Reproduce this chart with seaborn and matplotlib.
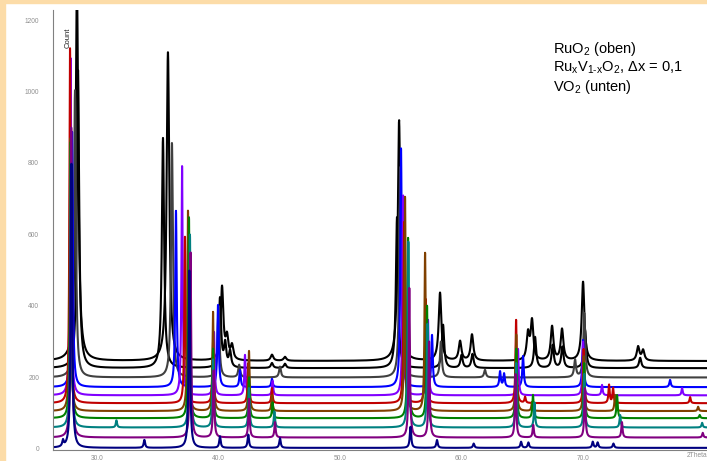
import numpy as np
import pandas as pd
import matplotlib
matplotlib.use("Agg")
import matplotlib.pyplot as plt
import seaborn as sns

# ---------------- data ----------------
# series order: top (RuO2) -> bottom (VO2)
SERIES = ["RuO2", "S9", "S8", "S7", "S6", "S5", "S4", "S3", "S2", "S1", "VO2"]
COLORS = ["#000000", "#000000", "#404040", "#0000FF", "#8000FF", "#C00000",
          "#804000", "#008000", "#008080", "#800080", "#000080"]
OFFSETS = [246, 226, 200, 173, 150, 128, 106, 86, 60, 32, 3]

# peak positions (2Theta) and apex counts (absolute, incl. offset)
POS_RUO2 = [28.35, 35.84, 40.29, 40.7, 41.11, 44.4, 45.47, 54.86, 58.23, 59.88, 60.86,
            65.47, 65.8, 67.45, 68.27, 70.0, 74.53, 74.94]
APEX_RUO2 = [1300, 1110, 450, 305, 285, 263, 257, 920, 436, 300, 319,
             319, 355, 341, 333, 467, 285, 275]
POS_S9 = [28.44, 35.43, 40.12, 40.55, 40.95, 44.4, 45.47, 54.69, 58.48, 60.0, 60.9,
          66.05, 67.5, 68.3, 70.16, 74.7]
APEX_S9 = [1060, 870, 420, 290, 270, 240, 238, 649, 347, 262, 265,
           313, 290, 285, 333, 255]
POS_S8 = [28.19, 36.17, 40.0, 41.7, 45.06, 54.95, 58.3, 61.93, 69.34, 70.1]
APEX_S8 = [1004, 856, 400, 235, 230, 790, 300, 221, 249, 380]
POS_S7 = [27.95, 36.5, 39.96, 41.77, 44.4, 55.02, 57.57, 63.17, 63.5, 65.06, 70.0, 77.16]
APEX_S7 = [887, 666, 403, 220, 196, 842, 319, 216, 210, 260, 305, 193]
POS_S6 = [27.83, 37.0, 39.63, 42.18, 44.45, 55.19, 57.24, 64.65, 70.0, 71.56, 78.15]
APEX_S6 = [1096, 792, 327, 263, 190, 710, 361, 280, 300, 179, 170]
POS_S5 = [27.78, 37.24, 39.55, 42.45, 44.4, 55.27, 57.05, 64.49, 65.23, 70.05, 72.14, 72.47, 78.81]
APEX_S5 = [1121, 596, 300, 240, 170, 635, 420, 361, 145, 280, 179, 170, 145]
POS_S4 = [27.8, 37.49, 39.55, 42.51, 44.4, 55.35, 57.0, 64.5, 65.8, 70.05, 72.63, 79.47]
APEX_S4 = [870, 668, 383, 274, 150, 705, 548, 320, 131, 260, 151, 118]
POS_S3 = [27.84, 37.57, 39.55, 42.51, 44.45, 55.6, 57.16, 64.5, 65.88, 70.1, 72.8, 79.6]
APEX_S3 = [860, 649, 280, 200, 130, 590, 400, 280, 151, 240, 151, 95]
POS_S2 = [27.86, 31.6, 37.65, 39.55, 42.51, 44.6, 55.62, 57.2, 64.5, 66.0, 70.1, 73.05, 79.8]
APEX_S2 = [850, 80, 600, 250, 170, 105, 580, 350, 240, 130, 210, 95, 73]
POS_S1 = [27.88, 37.7, 39.6, 42.51, 44.65, 55.7, 57.33, 64.45, 65.9, 70.15, 73.2, 79.85]
APEX_S1 = [900, 550, 220, 140, 75, 450, 300, 210, 67, 170, 75, 45]
POS_VO2 = [27.2, 27.9, 33.9, 37.6, 40.12, 42.45, 45.06, 55.8, 57.98, 61.0, 64.9, 65.5,
           70.8, 71.2, 72.5]
APEX_VO2 = [20, 800, 25, 500, 35, 40, 30, 62, 25, 15, 20, 18, 20, 18, 15]

PEAK_POS = [POS_RUO2, POS_S9, POS_S8, POS_S7, POS_S6, POS_S5, POS_S4, POS_S3, POS_S2, POS_S1, POS_VO2]
PEAK_APEX = [APEX_RUO2, APEX_S9, APEX_S8, APEX_S7, APEX_S6, APEX_S5, APEX_S4, APEX_S3,
             APEX_S2, APEX_S1, APEX_VO2]

X_TICKS = [30, 40, 50, 60, 70]
X_TICK_LABELS = ["30.0", "40.0", "50.0", "60.0", "70.0"]
Y_TICKS = [0, 200, 400, 600, 800, 1000, 1200]
LEGEND_LINES = [r"RuO$_2$ (oben)",
                r"Ru$_\mathrm{x}$V$_\mathrm{1‑x}$O$_2$, Δx = 0,1",
                r"VO$_2$ (unten)"]

# ---------------- styling ----------------
HWHM = [0.13, 0.11, 0.09, 0.07, 0.06, 0.06, 0.06, 0.06, 0.06, 0.06, 0.07]
X_MIN, X_MAX = 26.38, 80.2
Y_MIN, Y_MAX = -3, 1228

sns.set_theme(style="white")
plt.rcParams["font.family"] = ["Liberation Sans", "DejaVu Sans"]
plt.rcParams["mathtext.fontset"] = "custom"
plt.rcParams["mathtext.rm"] = "Liberation Sans"
plt.rcParams["mathtext.it"] = "Liberation Sans:italic"
plt.rcParams["mathtext.bf"] = "Liberation Sans:bold"

# ---------------- build profiles ----------------
x = np.linspace(X_MIN, X_MAX, 6000)
frames = []
for name, off, pos, apex, w in zip(SERIES, OFFSETS, PEAK_POS, PEAK_APEX, HWHM):
    y = np.full_like(x, float(off))
    for p, a in zip(pos, apex):
        y += (a - off) / (1.0 + ((x - p) / w) ** 2)
    frames.append(pd.DataFrame({"two_theta": x, "count": y, "series": name}))
df = pd.concat(frames, ignore_index=True)

W, H = 707, 461
fig = plt.figure(figsize=(W / 100, H / 100), dpi=100, facecolor="white")
ax = fig.add_axes([53 / W, (H - 450) / H, 1 - 53 / W, (450 - 10) / H])
ax.set_facecolor("white")

# peach frame on the left and top
fig.patches.append(plt.Rectangle((0, 0), 5 / W, 1, transform=fig.transFigure,
                                 color="#FCDCA8", zorder=-10))
fig.patches.append(plt.Rectangle((0, 1 - 3 / H), 1, 3 / H, transform=fig.transFigure,
                                 color="#FCDCA8", zorder=-10))

sns.lineplot(data=df, x="two_theta", y="count", hue="series", hue_order=SERIES,
             palette=COLORS, estimator=None, sort=False, legend=False,
             linewidth=1.5, ax=ax)

ax.set_xlim(X_MIN, X_MAX)
ax.set_ylim(Y_MIN, Y_MAX)
ax.set_xlabel("")
ax.set_ylabel("")
for s in ["top", "right"]:
    ax.spines[s].set_visible(False)
for s in ["left", "bottom"]:
    ax.spines[s].set_color("#808080")
    ax.spines[s].set_linewidth(0.8)

ax.set_xticks(X_TICKS)
ax.set_xticklabels(X_TICK_LABELS)
ax.set_xticks(np.arange(28, 80, 2), minor=True)
ax.set_yticks(Y_TICKS)
ax.set_yticks(np.arange(0, 1240, 40), minor=True)
ax.tick_params(axis="both", which="both", direction="out", color="#808080",
               labelcolor="#909090", labelsize=4.8, length=3, width=0.6)
ax.tick_params(axis="y", which="major", pad=7)
ax.tick_params(axis="x", which="major", pad=0.5)

ax.text(1.0, -0.004, "2Theta", transform=ax.transAxes, ha="right", va="top",
        fontsize=4.8, color="#909090")
fig.text(68 / W, 1 - 38 / H, "Count", rotation=90, ha="center", va="center",
         fontsize=5.5, color="#202020")

for i, line in enumerate(LEGEND_LINES):
    fig.text(553 / W, 1 - (53 + 19 * i) / H, line, ha="left", va="baseline",
             fontsize=10.5, color="black")

fig.savefig("out.png", dpi=100, facecolor="white")
